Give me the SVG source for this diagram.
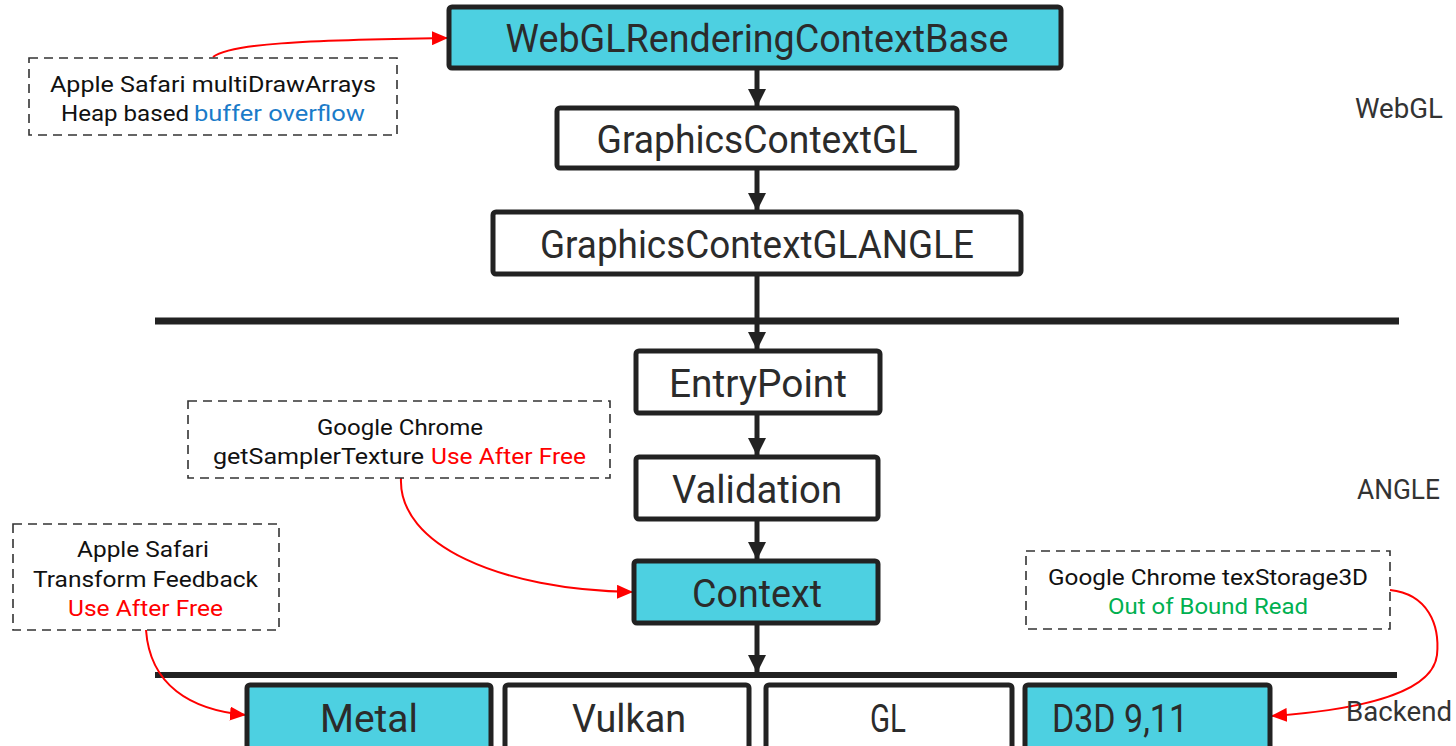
<svg xmlns="http://www.w3.org/2000/svg" width="1456" height="746" viewBox="0 0 1456 746">
<style>
.box{stroke:#222;stroke-width:5;}
.cyan{fill:#4DD0E1;}
.white{fill:#fff;}
.lbl{font-family:"Liberation Sans Narrow","Roboto","Liberation Sans",sans-serif;font-size:38px;fill:#2b2b2b;text-anchor:middle;}
.side{font-family:"Liberation Sans Narrow","Roboto","Liberation Sans",sans-serif;font-size:27px;fill:#333;}
.note{fill:#fff;stroke:#333;stroke-width:1.6;stroke-dasharray:9 6;}
.nt{font-family:"Liberation Sans Narrow","Roboto","Liberation Sans",sans-serif;font-size:22px;fill:#111;}
.blk{stroke:#222;stroke-width:5;fill:none;}
.red{stroke:#f00;stroke-width:2;fill:none;}
.sep{stroke:#222;stroke-width:7;}
</style>
<defs>
<marker id="ab" markerUnits="userSpaceOnUse" markerWidth="18" markerHeight="20" refX="18" refY="9" orient="auto"><path d="M0,0 L18,9 L0,18 Z" fill="#222"/></marker>
<marker id="ar" markerUnits="userSpaceOnUse" markerWidth="16" markerHeight="14" refX="16" refY="7" orient="auto"><path d="M0,0 L16,7 L0,14 Z" fill="#f00"/></marker>
</defs>

<g id="separators">
<line class="sep" x1="155" y1="321" x2="1399" y2="321"/>
<line class="sep" x1="155" y1="675" x2="1397" y2="675" style="stroke-width:6"/>
</g>

<g id="connectors">
<line class="blk" x1="757" y1="68" x2="757" y2="107" marker-end="url(#ab)"/>
<line class="blk" x1="757" y1="168" x2="757" y2="211" marker-end="url(#ab)"/>
<line class="blk" x1="757" y1="274" x2="757" y2="350" marker-end="url(#ab)"/>
<line class="blk" x1="757" y1="413" x2="757" y2="456" marker-end="url(#ab)"/>
<line class="blk" x1="757" y1="519" x2="757" y2="560" marker-end="url(#ab)"/>
<line class="blk" x1="757" y1="623" x2="757" y2="673" marker-end="url(#ab)"/>
<path class="red" d="M213,57 C230,44 300,40 448,38" marker-end="url(#ar)"/>
<path class="red" d="M401,478 C398,545 500,590 633,592" marker-end="url(#ar)"/>
<path class="red" d="M146,630 C150,685 190,710 246,715" marker-end="url(#ar)"/>
<path class="red" d="M1390,590 C1428,594 1440,625 1437,655 C1432,700 1330,712 1271,716" marker-end="url(#ar)"/>
</g>

<g id="n-webglbase">
<rect class="box cyan" x="449" y="7" width="612" height="61" rx="3"/>
<text class="lbl" x="757" y="52" textLength="503" lengthAdjust="spacingAndGlyphs">WebGLRenderingContextBase</text>
</g>
<g id="n-gcgl">
<rect class="box white" x="557" y="108" width="400" height="60" rx="3"/>
<text class="lbl" x="757" y="153" textLength="321" lengthAdjust="spacingAndGlyphs">GraphicsContextGL</text>
</g>
<g id="n-gcglangle">
<rect class="box white" x="493" y="212" width="528" height="62" rx="3"/>
<text class="lbl" x="757" y="258" textLength="434" lengthAdjust="spacingAndGlyphs">GraphicsContextGLANGLE</text>
</g>
<g id="n-entry">
<rect class="box white" x="636" y="351" width="244" height="62" rx="3"/>
<text class="lbl" x="758" y="397" textLength="178" lengthAdjust="spacingAndGlyphs">EntryPoint</text>
</g>
<g id="n-validation">
<rect class="box white" x="636" y="457" width="242" height="62" rx="3"/>
<text class="lbl" x="757" y="503" textLength="170" lengthAdjust="spacingAndGlyphs">Validation</text>
</g>
<g id="n-context">
<rect class="box cyan" x="634" y="561" width="244" height="62" rx="3"/>
<text class="lbl" x="757" y="607" textLength="130" lengthAdjust="spacingAndGlyphs">Context</text>
</g>
<g id="n-metal">
<rect class="box cyan" x="247" y="685" width="244" height="66" rx="3"/>
<text class="lbl" x="369" y="732" textLength="98" lengthAdjust="spacingAndGlyphs">Metal</text>
</g>
<g id="n-vulkan">
<rect class="box white" x="505" y="685" width="244" height="66" rx="3"/>
<text class="lbl" x="629" y="732" textLength="114" lengthAdjust="spacingAndGlyphs">Vulkan</text>
</g>
<g id="n-gl">
<rect class="box white" x="766" y="685" width="246" height="66" rx="3"/>
<text class="lbl" x="888" y="732" textLength="36" lengthAdjust="spacingAndGlyphs">GL</text>
</g>
<g id="n-d3d">
<rect class="box cyan" x="1025" y="685" width="245" height="66" rx="3"/>
<text class="lbl" x="1120" y="732" textLength="136" lengthAdjust="spacingAndGlyphs">D3D 9,11</text>
</g>

<g id="layer-labels">
<text class="side" x="1355" y="118" textLength="88" lengthAdjust="spacingAndGlyphs">WebGL</text>
<text class="side" x="1357" y="499" textLength="83" lengthAdjust="spacingAndGlyphs">ANGLE</text>
<text class="side" x="1346" y="721" textLength="106" lengthAdjust="spacingAndGlyphs">Backend</text>
</g>

<g id="note-safari1">
<rect class="note" x="29" y="58" width="368" height="77"/>
<text class="nt" x="50" y="92" textLength="326" lengthAdjust="spacingAndGlyphs">Apple Safari multiDrawArrays</text>
<text class="nt" x="61" y="121" textLength="128" lengthAdjust="spacingAndGlyphs">Heap based</text>
<text class="nt" x="194" y="121" textLength="171" lengthAdjust="spacingAndGlyphs" style="fill:#1a7bc9">buffer overflow</text>
</g>
<g id="note-chrome1">
<rect class="note" x="188" y="401" width="422" height="77"/>
<text class="nt" x="317" y="435" textLength="166" lengthAdjust="spacingAndGlyphs">Google Chrome</text>
<text class="nt" x="213" y="464" textLength="211" lengthAdjust="spacingAndGlyphs">getSamplerTexture</text>
<text class="nt" x="431" y="464" textLength="155" lengthAdjust="spacingAndGlyphs" style="fill:#f00">Use After Free</text>
</g>
<g id="note-safari2">
<rect class="note" x="13" y="524" width="266" height="106"/>
<text class="nt" x="77" y="557" textLength="132" lengthAdjust="spacingAndGlyphs">Apple Safari</text>
<text class="nt" x="33" y="587" textLength="225" lengthAdjust="spacingAndGlyphs">Transform Feedback</text>
<text class="nt" x="68" y="616" textLength="155" lengthAdjust="spacingAndGlyphs" style="fill:#f00">Use After Free</text>
</g>
<g id="note-chrome2">
<rect class="note" x="1026" y="551" width="364" height="78"/>
<text class="nt" x="1048" y="585" textLength="320" lengthAdjust="spacingAndGlyphs">Google Chrome texStorage3D</text>
<text class="nt" x="1108" y="614" textLength="200" lengthAdjust="spacingAndGlyphs" style="fill:#00b050">Out of Bound Read</text>
</g>
</svg>
